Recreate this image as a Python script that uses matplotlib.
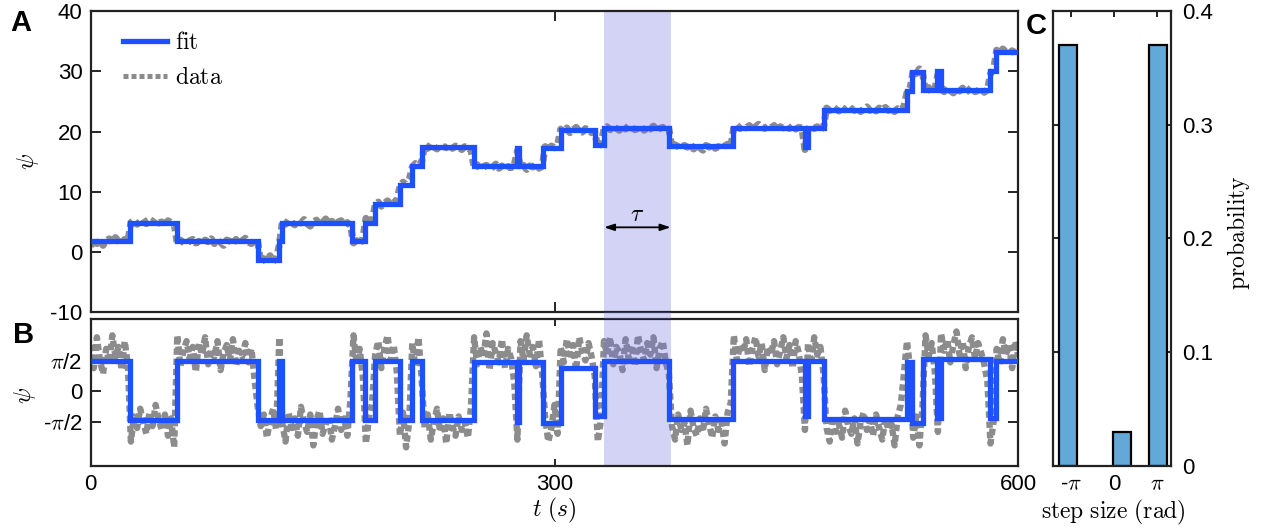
import numpy as np
import matplotlib
matplotlib.use("Agg")
import matplotlib.pyplot as plt
import matplotlib.transforms as mtransforms
from matplotlib.patches import Rectangle

# change points of the fitted step trace (s), shared by panels A and B
fit_edges = [0, 25.4, 55.6, 108.4, 121.5, 123.5, 168.8, 177.4, 183.9, 200.0, 207.6,
             214.1, 247.9, 275.5, 277.0, 292.8, 304.0, 326.2, 332.0, 374.3, 415.6,
             462.0, 464.0, 474.3, 527.8, 531.0, 538.5, 547.6, 550.0, 581.6, 585.5, 600]

# fitted levels, panel A (unwrapped angle)
fit_a = [1.75, 4.8, 1.75, -1.3, 1.75, 4.8, 1.75, 4.9, 8.0, 11.1, 14.3, 17.4, 14.3,
         17.2, 14.2, 17.2, 20.2, 17.7, 20.6, 17.6, 20.6, 17.5, 20.6, 23.6, 26.8,
         29.9, 26.9, 30.0, 26.9, 30.0, 33.2]

# fitted levels, panel B (wrapped angle)
fit_b = [1.55, -1.5, 1.55, -1.5, 1.55, -1.5, 1.55, -1.5, 1.55, -1.5, 1.55, -1.5,
         1.5, -1.6, 1.5, -1.65, 1.2, -1.3, 1.55, -1.45, 1.55, -1.3, 1.55, -1.45,
         1.5, -1.65, 1.7, -1.4, 1.7, -1.4, 1.55]

# measured angle, one sample every 2 s (panel A)
data_a = [
    0.9, 2.3, 1.4, 2.0, 1.1, 1.9, 2.2, 1.6, 2.4, 1.8, 1.5, 2.1, 1.7,
    4.9, 5.3, 4.6, 5.1, 5.5, 4.7, 5.2, 4.9, 5.6, 4.8, 5.0, 4.5, 5.2, 4.9, 4.6,
    1.4, 2.0, 1.6, 1.3, 1.9, 2.1, 1.5, 1.8, 1.2, 2.0, 1.7, 2.2, 1.4, 1.9, 1.6,
    1.1, 2.0, 1.8, 1.5, 2.1, 1.3, 1.9, 2.3, 1.6, 1.4, 2.0, 1.7,
    -1.6, -1.1, -1.8, -0.6, -1.5, -1.2,
    1.2,
    5.1, 4.6, 5.3, 4.9, 4.5, 5.2, 4.8, 5.4, 4.7, 4.3, 5.0, 5.3, 4.6, 4.9, 5.5,
    4.7, 5.1, 4.4, 5.0, 5.2, 4.6, 4.9, 4.4,
    1.5, 1.9, 1.4, 2.2,
    5.6, 4.8, 5.1,
    7.8, 8.3, 7.6, 8.1, 8.5, 7.9, 8.2, 8.6,
    10.9, 11.6, 11.2, 12.0,
    14.1, 14.7, 14.4, 14.9,
    17.6, 17.2, 17.9, 17.4, 17.1, 17.7, 17.5, 17.3, 17.8, 17.2, 17.6, 17.4,
    17.0, 17.5, 17.3, 16.9,
    14.0, 14.5, 13.8, 14.2, 14.4, 13.7, 14.1, 14.6, 13.9, 14.3, 13.6, 14.2,
    14.0, 14.5,
    16.8,
    14.0, 14.4, 13.7, 14.3, 14.1, 14.6, 13.9, 14.2,
    17.5, 17.0, 17.6, 17.3, 17.8,
    20.4, 20.0, 20.6, 19.8, 20.3, 20.7, 20.1, 19.9, 20.5, 20.2, 19.8, 20.0,
    17.4, 17.9,
    20.4, 20.8, 20.3, 20.9, 20.5, 20.2, 20.7, 20.4, 21.0, 20.6, 20.3, 20.5,
    20.8, 20.2, 20.6, 20.4, 20.9, 20.3, 20.5, 20.7, 20.2, 20.4,
    17.3, 17.8, 17.5, 17.2, 17.7, 17.4, 17.9, 17.1, 17.6, 17.3, 16.9, 17.7,
    17.4, 17.8, 17.2, 17.5, 17.3, 17.6, 17.9, 17.4,
    20.8, 21.1, 20.5, 20.9, 20.6, 21.0, 20.4, 20.8, 21.2, 20.7, 20.5, 20.9,
    20.6, 21.0, 20.3, 20.8, 20.6, 21.1, 20.5, 20.9, 20.4, 20.7, 20.6,
    17.0,
    20.4, 20.9, 20.5, 20.8, 20.3, 20.7,
    23.9, 23.5, 24.2, 23.7, 23.4, 24.0, 23.6, 24.3, 23.8, 23.5, 23.9, 23.3,
    23.7, 24.1, 23.5, 23.8, 23.4, 23.9, 23.6, 24.0, 23.5, 23.7, 23.3, 23.8,
    23.6, 24.1,
    26.5, 27.2,
    30.1, 29.6, 30.4, 29.8,
    26.7, 27.3, 26.5, 27.0,
    29.5,
    27.1, 26.6, 27.3, 26.8, 26.4, 27.0, 26.7, 27.2, 26.5, 26.9, 27.4, 26.6,
    26.8, 27.1, 26.5, 26.9,
    29.6, 30.3,
    33.5, 33.0, 33.7, 33.2, 32.9, 33.4, 33.1, 32.8,
]

# measured angle wrapped, one sample every 2 s (panel B)
data_b = [
    2.4, 1.2, 2.8, 1.6, 0.9, 2.2, 1.5, 2.9, 1.8, 2.3, 1.1, 2.6, 1.4,
    -2.6, -1.3, -1.9, -0.9, -1.6, -2.2, -1.1, -1.8, -0.7, -1.5, -2.0, -1.2,
    -2.3, -1.4, -2.9,
    2.9, 1.3, 2.1, 2.6, 1.7, 2.3, 1.0, 2.5, 1.9, 2.8, 1.4, 2.2, 1.8, 2.6, 1.1,
    2.0, 2.4, 1.6, 2.7, 1.3, 2.1, 1.8, 2.5, 1.5, 2.2, 0.6, -0.8,
    -1.8, -1.2, -2.4, -1.5, -0.9, -2.0,
    2.8,
    -1.7, -2.6, -1.1, -1.9, -1.4, -2.3, -0.8, -1.6, -2.1, -1.2, -2.8, -1.5,
    -1.0, -2.2, -1.7, -1.3, -2.5, -1.8, -0.9, -2.0, -1.4, -2.3, -0.4,
    2.9, 1.4, 2.2, 0.8,
    -2.7, -1.4, -0.6,
    1.9, 2.6, 1.2, 2.2, 2.9, 1.6, 2.4, 1.0,
    -2.3, -1.1, -2.9, -1.6,
    2.5, 1.3, 2.8, 0.7,
    -1.9, -1.2, -2.5, -1.6, -0.9, -2.1, -1.4, -2.7, -1.1, -1.8, -2.3, -1.3,
    -2.0, -1.6, -2.4, -0.8,
    2.8, 1.4, 2.3, 1.8, 3.0, 1.1, 2.5, 2.0, 1.5, 2.7, 1.2, 2.2, 1.7, 0.4,
    -2.5,
    2.6, 1.6, 2.9, 1.9, 2.3, 1.3, 2.7, 0.9,
    -1.4, -2.6, -1.9, -0.7, -2.2,
    2.3, 1.5, 2.7, 1.9, 2.4, 1.1, 2.8, 2.0, 1.6, 2.5, 1.8, 0.8,
    -2.6, -1.5,
    2.6, 1.9, 2.8, 1.4, 2.3, 2.0, 1.1, 2.7, 1.7, 2.4, 1.3, 2.9, 2.1, 1.6,
    2.5, 1.9, 2.8, 1.2, 2.2, 2.6, 1.5, 0.9,
    -1.8, -2.5, -1.2, -2.0, -1.6, -2.8, -1.0, -1.9, -2.3, -1.4, -2.1, -0.9,
    -1.7, -2.4, -1.3, -2.0, -1.6, -2.7, -1.1, -0.6,
    2.9, 1.6, 2.4, 2.0, 2.7, 1.3, 2.2, 2.8, 1.8, 2.5, 1.1, 2.3, 1.9, 2.6,
    1.4, 2.1, 2.8, 1.7, 2.4, 1.2, 2.6, 2.0, 0.8,
    -2.0,
    2.5, 1.4, 2.8, 1.9, 2.3, 0.9,
    -1.9, -2.6, -1.3, -2.1, -1.7, -2.4, -1.0, -1.8, -2.2, -1.4, -2.7, -1.6,
    -1.1, -2.0, -1.5, -2.3, -1.2, -1.9, -2.5, -1.4, -2.0, -1.7, -2.8, -1.3,
    -0.7, 0.9,
    2.6, 1.2,
    -2.4, -1.3, -2.8, -0.8,
    2.9, 1.8, 2.5, 1.0,
    -2.1,
    3.0, 2.1, 2.7, 1.5, 2.4, 3.1, 1.9, 2.6, 1.2, 2.3, 2.8, 1.7, 2.5, 2.0,
    1.4, 0.5,
    -2.7, -1.6,
    2.2, 1.4, 2.7, 1.9, 2.4, 1.2, 2.6, 1.8,
]

# panel C histogram of step sizes
step_centers = [-3.335, 0.595, 3.215]
step_prob = [0.37, 0.03, 0.37]
step_ticks = [-np.pi, 0, np.pi]
step_ticklabels = ['-$\\pi$', '0', '$\\pi$']

window = (332.0, 375.1)   # the shaded interval tau

plt.rcParams['font.family'] = ['Liberation Sans', 'DejaVu Sans']
plt.rcParams['mathtext.fontset'] = 'cm'

W, H = 1265, 529
fig = plt.figure(figsize=(W / 100, H / 100), dpi=100)


def box(l, t, r, b):
    return [l / W, 1 - b / H, (r - l) / W, (b - t) / H]


ax_a = fig.add_axes(box(90.7, 11, 1018.3, 312.3))
ax_b = fig.add_axes(box(90.7, 319.3, 1018.3, 465.7))
ax_c = fig.add_axes(box(1053.3, 11, 1170.7, 465.7))

fit_color = '#1f50ff'
data_color = '#8c8c8c'
shade_color = (0.43, 0.43, 0.88)
dots = (0, (1, 0.6))

t_a = np.linspace(0, 600, len(data_a))
t_b = np.linspace(0, 600, len(data_b))

# panel A
data_line, = ax_a.plot(t_a, data_a, color=data_color, lw=5, ls=dots,
                       zorder=2, label='$\\mathrm{data}$')
fit_line = ax_a.stairs(fit_a, fit_edges, baseline=None, color=fit_color, lw=3.8,
                       zorder=3, label='$\\mathrm{fit}$')
ax_a.axvspan(*window, color=shade_color, alpha=0.3, lw=0, zorder=2.5)
ax_a.set_xlim(0, 600)
ax_a.set_ylim(-10, 40)
ax_a.set_yticks([-10, 0, 10, 20, 30, 40])
ax_a.set_yticklabels(['-10', '0', '10', '20', '30', '40'])
ax_a.set_xticks([0, 300, 600])
ax_a.tick_params(direction='in', length=7, width=1.2, top=True, right=True,
                 labelbottom=False, labelsize=16, pad=6)
ax_a.annotate('', xy=(window[0], 4.1), xytext=(window[1], 4.1),
              arrowprops=dict(arrowstyle='<|-|>,head_length=0.6,head_width=0.2',
                              color='k', lw=1.3, shrinkA=0, shrinkB=0))
ax_a.text(sum(window) / 2, 6.2, '$\\tau$', fontsize=17, ha='center', va='center')
leg_handle = ax_a.plot([], [], color=data_color, lw=3.6, ls=dots)[0]
leg = ax_a.legend([fit_line, leg_handle], ['$\\mathrm{fit}$', '$\\mathrm{data}$'],
                  loc='upper left', bbox_to_anchor=(0.035, 0.93), frameon=False,
                  fontsize=17, handlelength=1.85, handletextpad=0.35,
                  labelspacing=0.55, borderpad=0, borderaxespad=0)

# panel B
ax_b.plot(t_b, data_b, color=data_color, lw=4.6, ls=dots, zorder=2)
ax_b.stairs(fit_b, fit_edges, baseline=None, color=fit_color, lw=3.8, zorder=3)
ax_b.axvspan(*window, color=shade_color, alpha=0.3, lw=0, zorder=2.5)
ax_b.set_xlim(0, 600)
ax_b.set_ylim(-3.85, 3.73)
ax_b.set_yticks([-np.pi / 2, 0, np.pi / 2])
ax_b.set_yticklabels(['-$\\pi$/2', '0', '$\\pi$/2'])
ax_b.set_xticks([0, 300, 600])
ax_b.set_xticklabels(['0', '300', '600'])
ax_b.tick_params(direction='in', length=7, width=1.2, top=True, right=True,
                 labelsize=16, pad=6)
ax_b.tick_params(axis='x', length=5)

# shade across the gap between A and B
trans = mtransforms.blended_transform_factory(ax_a.transData, fig.transFigure)
fig.add_artist(Rectangle((window[0], 1 - 319.3 / H), window[1] - window[0],
                         (319.3 - 312.3) / H, transform=trans,
                         color=shade_color, alpha=0.3, lw=0))

# panel C
ax_c.bar(step_centers, step_prob, width=1.31, color='#62a8d8', edgecolor='black',
         linewidth=1.6, zorder=2)
ax_c.set_xlim(-4.40, 4.11)
ax_c.set_ylim(0, 0.4)
ax_c.set_xticks(step_ticks)
ax_c.set_xticklabels(step_ticklabels)
ax_c.set_yticks([0, 0.1, 0.2, 0.3, 0.4])
ax_c.set_yticklabels(['0', '0.1', '0.2', '0.3', '0.4'])
ax_c.yaxis.tick_right()
ax_c.tick_params(direction='in', length=4, width=1.2, top=True, left=True,
                 right=True, labelleft=False, labelright=True, labelsize=16, pad=8)
ax_c.tick_params(axis='x', pad=6)

for ax in (ax_a, ax_b, ax_c):
    for s in ax.spines.values():
        s.set_linewidth(1.6)
        s.set_color('#222222')

# axis labels and panel letters
fig.text(28 / W, 1 - 161 / H, '$\\psi$', fontsize=17, rotation=90,
         ha='center', va='center')
fig.text(25 / W, 1 - 395 / H, '$\\psi$', fontsize=17, rotation=90,
         ha='center', va='center')
fig.text(554 / W, 1 - 510 / H, '$t\\ (s)$', fontsize=17, ha='center', va='center')
fig.text(1113 / W, 1 - 512 / H, '$\\mathrm{step\\ size\\ (rad)}$', fontsize=17,
         ha='center', va='center')
fig.text(1238 / W, 1 - 233 / H, '$\\mathrm{probability}$', fontsize=17,
         rotation=90, ha='center', va='center')
fig.text(21 / W, 1 - 23 / H, 'A', fontsize=21, fontweight='bold',
         ha='center', va='center')
fig.text(24 / W, 1 - 335 / H, 'B', fontsize=21, fontweight='bold',
         ha='center', va='center')
fig.text(1036 / W, 1 - 26 / H, 'C', fontsize=21, fontweight='bold',
         ha='center', va='center')

fig.savefig('out.png', dpi=100)
